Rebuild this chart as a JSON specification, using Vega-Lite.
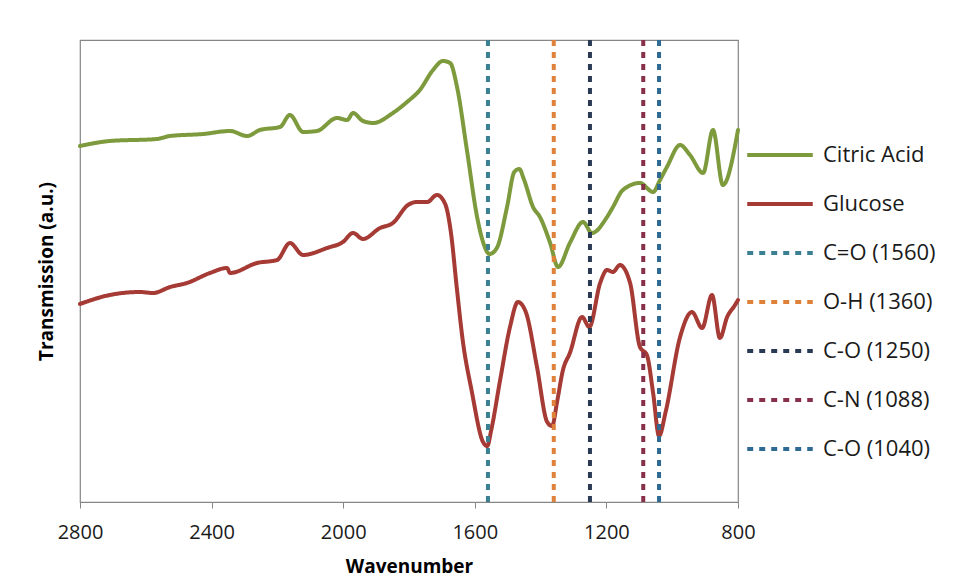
{
  "$schema": "https://vega.github.io/schema/vega-lite/v6.json",
  "width": 658,
  "height": 462,
  "autosize": {"type": "none"},
  "padding": {"left": 80, "top": 40, "right": 220, "bottom": 78},
  "background": "white",
  "config": {
    "font": "Open Sans",
    "view": {"stroke": "#868686", "strokeWidth": 1.2},
    "axis": {"grid": false, "labelColor": "#1a1a1a", "titleColor": "#000000"}
  },
  "datasets": {
    "spectra": [
      {"w": 2800, "t": 356, "s": "Citric Acid"}, {"w": 2709, "t": 361, "s": "Citric Acid"}, {"w": 2566, "t": 363, "s": "Citric Acid"}, {"w": 2526, "t": 366, "s": "Citric Acid"}, {"w": 2426, "t": 368, "s": "Citric Acid"}, {"w": 2344, "t": 371, "s": "Citric Acid"}, {"w": 2292, "t": 366, "s": "Citric Acid"}, {"w": 2253, "t": 372, "s": "Citric Acid"}, {"w": 2192, "t": 375, "s": "Citric Acid"}, {"w": 2162, "t": 387, "s": "Citric Acid"}, {"w": 2122, "t": 370, "s": "Citric Acid"}, {"w": 2080, "t": 371, "s": "Citric Acid"}, {"w": 2019, "t": 384, "s": "Citric Acid"}, {"w": 1988, "t": 382, "s": "Citric Acid"}, {"w": 1970, "t": 389, "s": "Citric Acid"}, {"w": 1940, "t": 381, "s": "Citric Acid"}, {"w": 1909, "t": 379, "s": "Citric Acid"}, {"w": 1849, "t": 389, "s": "Citric Acid"}, {"w": 1806, "t": 400, "s": "Citric Acid"}, {"w": 1767, "t": 412, "s": "Citric Acid"}, {"w": 1727, "t": 432, "s": "Citric Acid"}, {"w": 1697, "t": 441, "s": "Citric Acid"}, {"w": 1675, "t": 439, "s": "Citric Acid"}, {"w": 1654, "t": 415, "s": "Citric Acid"}, {"w": 1624, "t": 352, "s": "Citric Acid"}, {"w": 1593, "t": 285, "s": "Citric Acid"}, {"w": 1575, "t": 260, "s": "Citric Acid"}, {"w": 1555, "t": 248, "s": "Citric Acid"}, {"w": 1533, "t": 254, "s": "Citric Acid"}, {"w": 1502, "t": 295, "s": "Citric Acid"}, {"w": 1480, "t": 330, "s": "Citric Acid"}, {"w": 1465, "t": 333, "s": "Citric Acid"}, {"w": 1450, "t": 322, "s": "Citric Acid"}, {"w": 1423, "t": 295, "s": "Citric Acid"}, {"w": 1402, "t": 285, "s": "Citric Acid"}, {"w": 1371, "t": 259, "s": "Citric Acid"}, {"w": 1347, "t": 235, "s": "Citric Acid"}, {"w": 1311, "t": 259, "s": "Citric Acid"}, {"w": 1271, "t": 280, "s": "Citric Acid"}, {"w": 1244, "t": 269, "s": "Citric Acid"}, {"w": 1198, "t": 285, "s": "Citric Acid"}, {"w": 1180, "t": 295, "s": "Citric Acid"}, {"w": 1150, "t": 312, "s": "Citric Acid"}, {"w": 1098, "t": 319, "s": "Citric Acid"}, {"w": 1058, "t": 310, "s": "Citric Acid"}, {"w": 1037, "t": 322, "s": "Citric Acid"}, {"w": 1016, "t": 335, "s": "Citric Acid"}, {"w": 976, "t": 357, "s": "Citric Acid"}, {"w": 946, "t": 347, "s": "Citric Acid"}, {"w": 906, "t": 329, "s": "Citric Acid"}, {"w": 876, "t": 372, "s": "Citric Acid"}, {"w": 846, "t": 317, "s": "Citric Acid"}, {"w": 800, "t": 372, "s": "Citric Acid"},
      {"w": 2800, "t": 198, "s": "Glucose"}, {"w": 2709, "t": 207, "s": "Glucose"}, {"w": 2618, "t": 210, "s": "Glucose"}, {"w": 2578, "t": 209, "s": "Glucose"}, {"w": 2526, "t": 215, "s": "Glucose"}, {"w": 2475, "t": 219, "s": "Glucose"}, {"w": 2405, "t": 229, "s": "Glucose"}, {"w": 2353, "t": 234, "s": "Glucose"}, {"w": 2344, "t": 229, "s": "Glucose"}, {"w": 2262, "t": 239, "s": "Glucose"}, {"w": 2201, "t": 242, "s": "Glucose"}, {"w": 2162, "t": 259, "s": "Glucose"}, {"w": 2122, "t": 247, "s": "Glucose"}, {"w": 2049, "t": 254, "s": "Glucose"}, {"w": 2001, "t": 260, "s": "Glucose"}, {"w": 1970, "t": 269, "s": "Glucose"}, {"w": 1940, "t": 263, "s": "Glucose"}, {"w": 1888, "t": 274, "s": "Glucose"}, {"w": 1849, "t": 279, "s": "Glucose"}, {"w": 1803, "t": 297, "s": "Glucose"}, {"w": 1776, "t": 300, "s": "Glucose"}, {"w": 1745, "t": 300, "s": "Glucose"}, {"w": 1715, "t": 307, "s": "Glucose"}, {"w": 1690, "t": 298, "s": "Glucose"}, {"w": 1672, "t": 268, "s": "Glucose"}, {"w": 1655, "t": 215, "s": "Glucose"}, {"w": 1636, "t": 160, "s": "Glucose"}, {"w": 1610, "t": 112, "s": "Glucose"}, {"w": 1575, "t": 60, "s": "Glucose"}, {"w": 1562, "t": 56, "s": "Glucose"}, {"w": 1550, "t": 72, "s": "Glucose"}, {"w": 1523, "t": 122, "s": "Glucose"}, {"w": 1493, "t": 175, "s": "Glucose"}, {"w": 1469, "t": 200, "s": "Glucose"}, {"w": 1445, "t": 190, "s": "Glucose"}, {"w": 1411, "t": 135, "s": "Glucose"}, {"w": 1380, "t": 80, "s": "Glucose"}, {"w": 1365, "t": 76, "s": "Glucose"}, {"w": 1350, "t": 100, "s": "Glucose"}, {"w": 1332, "t": 132, "s": "Glucose"}, {"w": 1311, "t": 149, "s": "Glucose"}, {"w": 1274, "t": 185, "s": "Glucose"}, {"w": 1252, "t": 175, "s": "Glucose"}, {"w": 1219, "t": 219, "s": "Glucose"}, {"w": 1198, "t": 232, "s": "Glucose"}, {"w": 1180, "t": 230, "s": "Glucose"}, {"w": 1159, "t": 237, "s": "Glucose"}, {"w": 1128, "t": 219, "s": "Glucose"}, {"w": 1098, "t": 155, "s": "Glucose"}, {"w": 1077, "t": 147, "s": "Glucose"}, {"w": 1058, "t": 109, "s": "Glucose"}, {"w": 1040, "t": 66, "s": "Glucose"}, {"w": 1020, "t": 90, "s": "Glucose"}, {"w": 976, "t": 165, "s": "Glucose"}, {"w": 940, "t": 190, "s": "Glucose"}, {"w": 909, "t": 174, "s": "Glucose"}, {"w": 879, "t": 207, "s": "Glucose"}, {"w": 855, "t": 164, "s": "Glucose"}, {"w": 833, "t": 185, "s": "Glucose"}, {"w": 809, "t": 197, "s": "Glucose"}, {"w": 800, "t": 202, "s": "Glucose"}
    ],
    "bands": [
      {"w": 1560, "s": "C=O (1560)"},
      {"w": 1360, "s": "O-H (1360)"},
      {"w": 1250, "s": "C-O (1250)"},
      {"w": 1088, "s": "C-N (1088)"},
      {"w": 1040, "s": "C-O (1040)"}
    ]
  },
  "encoding": {
    "x": {"field": "w", "type": "quantitative",
      "scale": {"domain": [800, 2800], "reverse": true, "nice": false, "zero": false},
      "axis": {"values": [2800, 2400, 2000, 1600, 1200, 800], "format": "d", "title": "Wavenumber", "titleFontSize": 19, "titleFontWeight": "bold", "titlePadding": 15, "labelFontSize": 20, "labelPadding": 14, "tickSize": 6, "tickColor": "#868686", "domainColor": "#868686", "labelFlush": false}},
    "color": {"field": "s", "type": "nominal",
      "scale": {"domain": ["Citric Acid", "Glucose", "C=O (1560)", "O-H (1360)", "C-O (1250)", "C-N (1088)", "C-O (1040)"],
                "range": ["#7d9a3d", "#a63a34", "#3b7f93", "#e0813a", "#2a3a52", "#86304a", "#2f6a92"]},
      "legend": {"title": null, "orient": "none", "legendX": 665, "legendY": 80, "symbolType": "stroke", "symbolSize": 4300, "labelFontSize": 22, "labelColor": "#1a1a1a", "rowPadding": 3, "labelOffset": 8, "labelLimit": 300}},
    "strokeDash": {"field": "s", "type": "nominal",
      "scale": {"domain": ["Citric Acid", "Glucose", "C=O (1560)", "O-H (1360)", "C-O (1250)", "C-N (1088)", "C-O (1040)"],
                "range": [[1, 0], [1, 0], [6, 6], [6, 6], [6, 6], [6, 6], [6, 6]]}},
    "strokeWidth": {"field": "s", "type": "ordinal",
      "scale": {"domain": ["Citric Acid", "Glucose", "C=O (1560)", "O-H (1360)", "C-O (1250)", "C-N (1088)", "C-O (1040)"],
                "range": [4, 4, 1.5, 1.5, 1.5, 1.5, 1.5]}}
  },
  "layer": [
    {
      "data": {"name": "spectra"},
      "mark": {"type": "line", "interpolate": "monotone", "strokeCap": "round", "strokeJoin": "round"},
      "encoding": {
        "y": {"field": "t", "type": "quantitative",
          "scale": {"domain": [0, 462], "nice": false, "zero": false},
          "axis": {"title": "Transmission (a.u.)", "labels": false, "ticks": false, "domain": false, "titleFontSize": 19, "titleFontWeight": "bold", "titlePadding": 24}}
      }
    },
    {
      "data": {"name": "bands"},
      "mark": {"type": "rule"},
      "encoding": {}
    }
  ]
}
